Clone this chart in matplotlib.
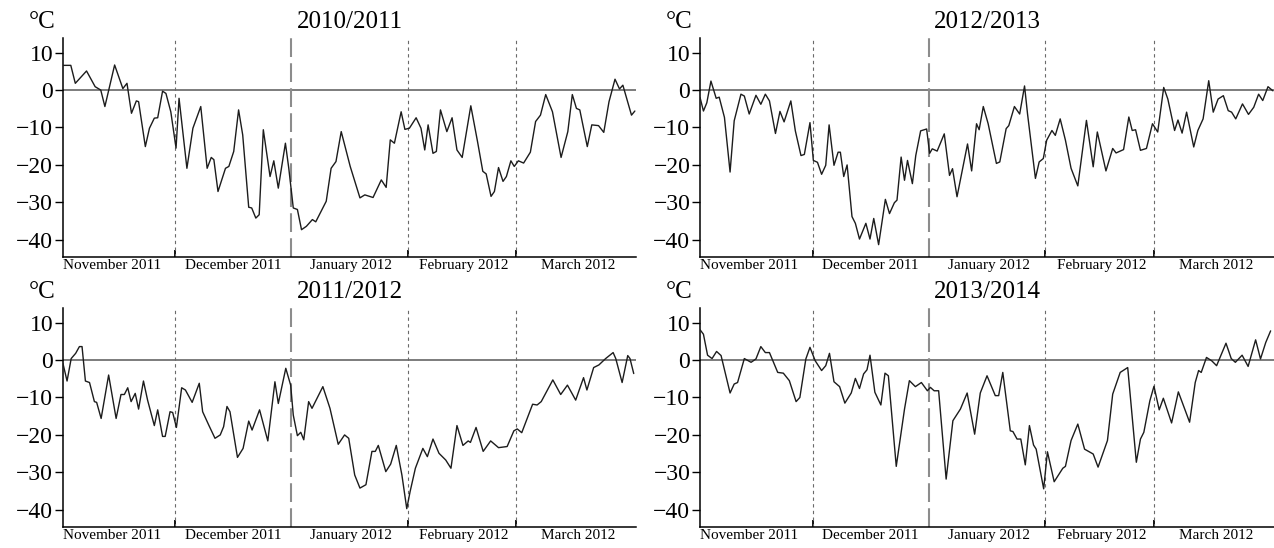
import matplotlib
matplotlib.use('Agg')
import matplotlib.pyplot as plt

# Шрифт с засечками, как в журнальных рисунках
plt.rcParams['font.family'] = ['Liberation Serif', 'DejaVu Serif']

months = ['November 2011', 'December 2011', 'January 2012', 'February 2012', 'March 2012']
month_starts = [30, 61, 92, 121]          # 1 дек, 1 янв, 1 фев, 1 мар (дни от 1 ноября)
label_pos = [13, 45.5, 77, 107, 137.5]    # подписи месяцев
y_ticks = [10, 0, -10, -20, -30, -40]

# 2010/2011: день от 1 ноября, температура, °C
days_1011 = [0, 2.1, 3.3, 6.3, 8.6, 10.1, 11.2, 13.8, 16, 17.1, 18.3, 19.6, 20.2, 22, 23.1, 24.4,
             25.3, 26.6, 27.5, 28.8, 30.2, 31, 33.1, 34.7, 36.8, 38.5, 39.6, 40.3, 41.4, 43.4,
             44.3, 45.6, 46.9, 48, 49.6, 50.4, 51.5, 52.4, 53.5, 55.3, 56.3, 57.5, 59.4, 60.3,
             61.5, 62.6, 63.7, 65, 66.6, 67.5, 70.3, 71.6, 72.9, 74.3, 76.7, 79.3, 80.6, 82.8,
             85, 86.3, 87.4, 88.5, 90.3, 91.3, 92.5, 94.3, 95.6, 96.6, 97.5, 98.8, 99.7, 100.8,
             102.5, 103.9, 105.2, 106.6, 108.9, 110.7, 112.1, 113, 114.3, 115.2, 116.3, 117.5,
             118.4, 119.6, 120.5, 121.6, 123, 124.8, 126.2, 127.5, 128.9, 130.7, 133, 134.8,
             136, 137.1, 138, 140, 141.2, 143, 144.4, 145.8, 147.4, 148.6, 149.5, 151.8, 152.7]
t_1011 = [6.6, 6.6, 1.8, 5.1, 0.9, 0, -4.4, 6.7, 0.4, 1.8, -6.2, -2.9, -3.1, -15.1, -10.2, -7.5,
          -7.4, -0.3, -0.9, -5.8, -15.5, -2.2, -20.9, -10.2, -4.4, -20.9, -18, -18.6, -27.1, -20.9,
          -20.4, -16.4, -5.3, -12, -31.3, -31.5, -34.2, -33.3, -10.6, -23.1, -18.9, -26.2, -14.2,
          -20.9, -31.5, -31.9, -37.3, -36.4, -34.6, -35.2, -29.7, -20.9, -19.1, -11.1, -20.4,
          -28.8, -28, -28.7, -24, -26, -13.3, -14.2, -5.8, -10.5, -10.2, -7.4, -10.2, -16, -9.3,
          -16.9, -16.4, -5.3, -11.1, -7.4, -16, -18, -4.2, -13.8, -21.7, -22.4, -28.4, -27.1,
          -20.7, -24.4, -23.1, -18.9, -20.4, -18.9, -19.5, -16.6, -8.4, -6.7, -1.2, -5.8, -18,
          -11.1, -1.2, -4.9, -5.3, -15.1, -9.3, -9.5, -11.3, -3.1, 2.9, 0.3, 1.3, -6.7, -5.6]

# 2012/2013
days_1213 = [0, 0.9, 1.8, 2.9, 4.3, 5.1, 6.5, 8, 9.1, 10.9, 11.8, 13.1, 14.9, 16.2, 17.4, 18.5,
             20.1, 21.3, 22.4, 24.2, 25.4, 26.9, 27.8, 29.3, 30.2, 31.3, 32.4, 33.5, 34.4, 35.7,
             36.8, 37.4, 38.3, 39.2, 40.5, 41.4, 42.5, 44.2, 45.3, 46.3, 47.6, 49.4, 50.5, 51.8,
             52.5, 53.6, 54.5, 55.3, 56.6, 57.5, 58.8, 60.4, 61.2, 61.9, 63.2, 65.1, 66.5, 67.3,
             68.5, 71.3, 72.4, 73.7, 74.4, 75.5, 76.8, 79, 79.9, 81.6, 82.3, 83.8, 85.2, 86.5,
             87.3, 89.4, 90.4, 91.5, 92.4, 93.8, 94.7, 96, 97.4, 98.9, 100.7, 103, 104.8, 105.9,
             108.2, 110, 110.9, 112.9, 114.3, 115.2, 116.1, 117.4, 119, 120.6, 122, 123.6, 124.7,
             126.5, 127.4, 128.5, 129.7, 131.6, 132.7, 134.1, 135.6, 136.8, 138.1, 139.5, 140.8,
             141.7, 142.8, 144.6, 146.2, 147.6, 148.9, 150, 151.4, 152.7]
t_1213 = [-2, -5.6, -3.4, 2.4, -2.2, -1.9, -7.3, -21.9, -8.2, -1.1, -1.6, -6.4, -1.4, -3.8, -1.1,
          -2.9, -11.6, -5.7, -8.5, -2.9, -10.9, -17.5, -17.2, -8.7, -18.8, -19.3, -22.5, -20.1,
          -9.3, -20.1, -16.6, -16.6, -23.1, -20, -33.8, -35.6, -39.8, -35.6, -39.8, -34.3, -41.3,
          -29.2, -33, -30.1, -29.4, -17.9, -24.1, -18.8, -25, -17.5, -10.9, -10.4, -16.9, -15.7,
          -16.3, -11.7, -22.8, -21, -28.5, -14.4, -21.6, -9, -10.6, -4.4, -9, -19.6, -19.2,
          -10.3, -9.5, -4.4, -6.4, 1.1, -6.4, -23.6, -19.2, -18.3, -13.4, -10.8, -12.1, -7.7,
          -13.4, -20.9, -25.6, -8.1, -20.5, -11.2, -21.6, -15.6, -16.8, -15.9, -7.2, -10.8,
          -10.6, -16.1, -15.6, -9, -11.2, 0.7, -2.4, -10.8, -8, -11.5, -5.9, -15.2, -10.8, -7.7,
          2.5, -5.9, -2.4, -1.5, -5.5, -5.9, -7.7, -3.7, -6.5, -4.6, -1.1, -2.8, 0.9, -0.2]

# 2011/2012
days_1112 = [0, 1.1, 2.2, 3.4, 4.4, 5.1, 6, 7.1, 8.4, 9, 10.2, 12.2, 14.2, 15.5, 16.4, 17.3, 18.2,
             19.3, 20.2, 21.5, 22.6, 24.4, 25.3, 26.6, 27.3, 28.6, 29.3, 30.3, 31.7, 32.7, 34.5,
             36.4, 37.3, 38.9, 40.6, 42, 42.9, 43.8, 44.6, 46.6, 48.1, 49.6, 50.5, 52.5, 54.7,
             56.6, 57.5, 59.5, 60.8, 61.5, 62.6, 63.5, 64.3, 65.6, 66.5, 69.4, 71.3, 73.5, 75.2,
             76.3, 77.9, 79.3, 80.9, 82.5, 83.4, 84.2, 86.2, 87.5, 89, 90.5, 91.8, 92.7, 94.1,
             96.1, 97.3, 98.8, 100.4, 102.2, 103.6, 105.2, 106.8, 108.2, 108.8, 110.3, 112.2,
             114.2, 116.3, 118.6, 120.4, 121.3, 122.5, 125.4, 126.6, 127.7, 130.8, 132.9, 134.7,
             136.9, 139, 139.9, 141.7, 143.1, 144.9, 146.9, 147.6, 149.3, 150.8, 151.4, 152.4]
t_1112 = [-0.9, -5.6, 0.4, 1.8, 3.6, 3.6, -5.6, -6, -11.1, -11.3, -15.6, -4, -15.6, -9.2, -9.2,
          -7.4, -11.1, -8.9, -13.1, -5.6, -10.7, -17.5, -13.3, -20.4, -20.4, -13.8, -14, -18,
          -7.4, -8, -11.3, -6.2, -13.8, -17.3, -20.9, -20, -17.8, -12.4, -13.8, -26, -23.6,
          -16.3, -18.7, -13.3, -21.6, -5.8, -11.6, -2.2, -6.7, -14.7, -20.2, -19.3, -21.3,
          -11.1, -12.9, -7.1, -12.9, -22.5, -20, -20.9, -30.7, -34.2, -33.3, -24.4, -24.4,
          -22.8, -29.8, -27.8, -22.8, -30.7, -39.7, -35.1, -28.9, -23.6, -25.8, -21.1, -24.9,
          -26.7, -28.9, -17.5, -22.8, -21.6, -22, -18, -24.4, -21.6, -23.4, -23.1, -18.9, -18.4,
          -19.4, -11.8, -12, -11.1, -5.3, -9.2, -6.7, -10.7, -4.7, -8, -2, -1.3, 0.4, 2, 0.4,
          -6, 1.2, 0.4, -3.6]

# 2013/2014
days_1314 = [0, 0.9, 2, 3.2, 4.4, 5.6, 8, 9.1, 10, 11.8, 13.6, 14.9, 16.2, 17.4, 18.5, 20.7, 22.2,
             23.8, 25.6, 26.6, 28.2, 29.3, 30.7, 32.4, 33.5, 34.5, 35.7, 37.2, 38.6, 40.3, 41.4,
             42.5, 43.6, 44.5, 45.3, 46.6, 48.2, 49.3, 50.2, 52.3, 54.5, 55.8, 57.4, 59, 60.6,
             61.4, 62.4, 63.6, 65.6, 67.4, 69.4, 71.2, 73.2, 74.7, 76.5, 78.7, 79.6, 80.7, 82.7,
             83.4, 84.5, 85.5, 86.7, 87.8, 88.9, 89.6, 91.6, 92.6, 94.4, 96.7, 97.4, 98.9, 100.7,
             102.5, 104.8, 106.1, 108.6, 110, 112, 114, 116.3, 117.4, 118.3, 119.9, 121, 122.4,
             123.5, 125.7, 127.5, 130.5, 132, 132.9, 133.6, 135, 136.4, 137.7, 140.2, 141.6,
             142.7, 144.5, 146.1, 148.1, 149.4, 150.8, 152.1]
t_1314 = [8.1, 6.9, 1.3, 0.4, 2.3, 1.2, -8.8, -6.4, -6, 0.4, -0.6, 0.3, 3.6, 2, 2, -3.3, -3.5,
          -5.5, -11.1, -10, 0.3, 3.4, -0.2, -2.8, -1.5, 1.8, -5.8, -7.1, -11.5, -8.8, -4.9, -7.6,
          -3.7, -2.6, 1.3, -8.6, -12, -3.5, -4.2, -28.4, -13.1, -5.5, -7.1, -6, -8.2, -7.3, -8.2,
          -8.2, -31.8, -16.2, -13.1, -8.8, -19.8, -8.8, -4.2, -9.5, -9.5, -3.3, -18.9, -19.1,
          -21.1, -21.1, -28, -17.5, -22.7, -23.8, -34.4, -24.5, -32.5, -28.9, -28.4, -21.5,
          -17.1, -23.8, -25.1, -28.6, -21.5, -9.1, -3.3, -2, -27.3, -21.1, -19.3, -10.9, -7,
          -13.3, -10.2, -16.8, -8.5, -16.6, -6, -2.8, -3.3, 0.7, -0.2, -1.5, 4.5, 0.4, -0.6, 1.3,
          -1.7, 5.4, 0.3, 4.7, 7.8]

fig = plt.figure(figsize=(12.74, 5.48), dpi=100)

# [left, bottom, width, height] для четырёх панелей
panels = [
    ('2010/2011', days_1011, t_1011, [0.0494, 0.531, 0.4498, 0.3996]),
    ('2012/2013', days_1213, t_1213, [0.5495, 0.531, 0.4505, 0.3996]),
    ('2011/2012', days_1112, t_1112, [0.0494, 0.0383, 0.4498, 0.3996]),
    ('2013/2014', days_1314, t_1314, [0.5495, 0.0383, 0.4505, 0.3996]),
]

for title, days, temps, rect in panels:
    ax = fig.add_axes(rect)
    ax.plot(days, temps, color='#1c1c1c', lw=1.0, zorder=3,
            solid_joinstyle='round', solid_capstyle='round')
    ax.axhline(0, color='#7c7c7c', lw=1.4, zorder=1)

    # границы месяцев, 1 января - длинный штрих
    for m in month_starts:
        if m == 61:
            ax.axvline(m, color='#8c8c8c', lw=1.5, ls=(0, (9, 3)), zorder=2)
        else:
            ax.axvline(m, color='#6a6a6a', lw=0.8, ls=(0, (3, 3)), zorder=2)

    ax.set_xlim(0, 153)
    ax.set_ylim(-44.6, 13.9)
    ax.spines['top'].set_visible(False)
    ax.spines['right'].set_visible(False)
    ax.spines['left'].set_linewidth(1.1)
    ax.spines['bottom'].set_linewidth(1.1)

    ax.set_yticks(y_ticks)
    ax.tick_params(axis='y', direction='out', length=5.5, width=1, labelsize=17, pad=1.5)

    ax.set_xticks(month_starts)
    ax.set_xticklabels([])
    ax.set_xticks(label_pos, minor=True)
    ax.set_xticklabels(months, minor=True)
    ax.tick_params(axis='x', which='major', direction='in', length=5, width=1.3)
    ax.tick_params(axis='x', which='minor', length=0, labelsize=11, pad=1.5)

    ax.text(0.5, 1.073, title, transform=ax.transAxes, ha='center', va='center', fontsize=18)
    ax.text(-0.036, 1.073, '°C', transform=ax.transAxes, ha='center', va='center', fontsize=18)

fig.savefig('out.png', dpi=100)
